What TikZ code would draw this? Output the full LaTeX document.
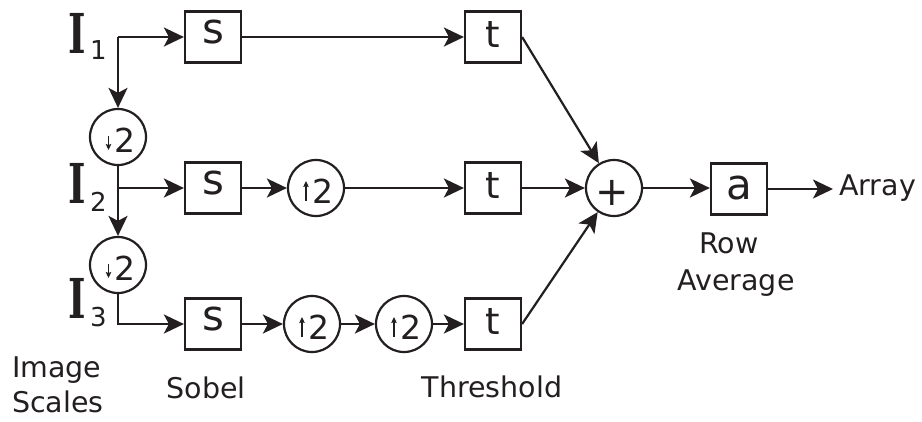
\documentclass[tikz,border=0pt]{standalone}
\usepackage{fontspec}
\usepackage{graphicx}
\setmainfont{DejaVu Sans}
\newfontfamily\serifI{DejaVu Serif}
\usetikzlibrary{arrows.meta}
\definecolor{ink}{RGB}{35,31,32}
\tikzset{
  stepbox/.style={draw=ink, line width=2.2pt, minimum width=56pt, minimum height=51pt, inner sep=0pt, text=ink, text depth=0pt, font=\fontsize{42}{42}\selectfont},
  circbox/.style={circle, draw=ink, line width=2.2pt, minimum size=56pt, inner sep=0pt, text=ink, text height=30.5pt, text depth=0pt, font=\fontsize{33}{33}\selectfont},
  lbl/.style={text=ink, font=\fontsize{28.5}{32}\selectfont, inner sep=0pt},
  bigI/.style={text=ink, font=\serifI\bfseries\fontsize{55}{55}\selectfont, inner sep=0pt, anchor=base west},
  subI/.style={text=ink, font=\fontsize{26}{26}\selectfont, inner sep=0pt, anchor=base west},
  conn/.style={draw=ink, line width=2.2pt, -{Stealth[length=20pt,width=19pt,inset=5pt]}},
  small/.style={draw=ink, line width=1.4pt, -{Stealth[length=6pt,width=5.5pt,inset=1pt]}},
}
\newcommand{\narrowI}{\scalebox{0.68}[1]{I}}
\begin{document}
\begin{tikzpicture}[x=1pt,y=-1pt]
\useasboundingbox (0,0) rectangle (922,421);
% input labels
\node[bigI] (I1) at (68,53) {\narrowI};
\node[subI] (I1s) at (90,59) {1};
\node[bigI] (I2) at (68,203) {\narrowI};
\node[subI] (I2s) at (90,211) {2};
\node[bigI] (I3) at (68,318) {\narrowI};
\node[subI] (I3s) at (90,326) {3};
% nodes
\coordinate (c1) at (118,37);
\node[circbox] (d1) at (118,137) {\hspace{13pt}2};
\node[circbox] (d2) at (118,265) {\hspace{13pt}2};
\coordinate (c2) at (118,188);
\node[stepbox, text height=13pt] (s1) at (213,37) {s};
\node[stepbox, text height=13pt] (s2) at (213,188) {s};
\node[stepbox, text height=13pt] (s3) at (213,324) {s};
\node[circbox] (u2) at (316,188) {\hspace{13pt}2};
\node[circbox] (u3a) at (312,324) {\hspace{13pt}2};
\node[circbox] (u3b) at (404,324) {\hspace{13pt}2};
\node[stepbox, text height=21pt, font=\fontsize{37}{37}\selectfont] (t1) at (493,37) {t};
\node[stepbox, text height=21pt, font=\fontsize{37}{37}\selectfont] (t2) at (493,188) {t};
\node[stepbox, text height=21pt, font=\fontsize{37}{37}\selectfont] (t3) at (493,324) {t};
\node[circbox] (p) at (614,188) {};
\node[text=ink, font=\fontsize{40}{40}\selectfont, inner sep=0pt] (plus) at (612,193) {+};
\node[stepbox, text height=20pt] (a) at (739,189) {a};
\node[lbl, anchor=base west] (arr) at (839,195) {Array};
\coordinate (arrin) at (833,189);
% labels
\node[lbl, anchor=base west] (img) at (12,377) {Image};
\node[lbl, anchor=base west] (scl) at (12,412) {Scales};
\node[lbl, anchor=base] (sob) at (206,398) {Sobel};
\node[lbl, anchor=base] (thr) at (492,397) {Threshold};
\node[lbl, anchor=base] (row) at (729,253) {Row};
\node[lbl, anchor=base] (avg) at (736,290) {Average};
% small arrows inside the circles
\draw[small] ([shift={(-9.5,-1)}]d1.center) -- ++(0,14);
\draw[small] ([shift={(-9.5,-1)}]d2.center) -- ++(0,14);
\draw[small] ([shift={(-10,13)}]u2.center) -- ++(0,-20);
\draw[small] ([shift={(-10,13)}]u3a.center) -- ++(0,-20);
\draw[small] ([shift={(-10,13)}]u3b.center) -- ++(0,-20);
% connectors
\draw[conn] (c1) -- (s1);
\draw[conn] (c1) -- (d1);
\draw[conn] (d1) -- (d2);
\draw[conn] (c2) -- (s2);
\draw[conn] (d2.south) |- (s3);
\draw[conn] (s1) -- (t1);
\draw[conn] (s2) -- (u2);
\draw[conn] (u2) -- (t2);
\draw[conn] (s3) -- (u3a);
\draw[conn] (u3a) -- (u3b);
\draw[conn] (u3b) -- (t3);
\draw[conn] (t1.east) -- (p);
\draw[conn] (t2) -- (p);
\draw[conn] (t3.east) -- (p);
\draw[conn] (p.east) -- (p.east -| a.west);
\draw[conn] (a.east) -- (arrin);
\end{tikzpicture}
\end{document}
